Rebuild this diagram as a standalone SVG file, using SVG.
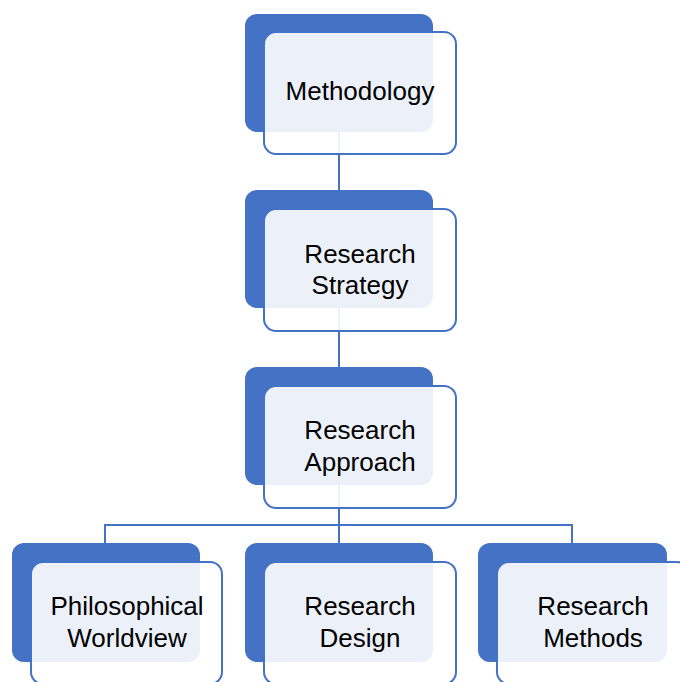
<svg xmlns="http://www.w3.org/2000/svg" width="680" height="682" viewBox="0 0 680 682">
<style>
.back{fill:#4472C4;}
.front{fill:#FFFFFF;fill-opacity:0.9;stroke:#4472C4;stroke-width:2;}
.lbl{font-family:"Liberation Sans",Arial,sans-serif;font-size:26px;fill:#000;text-anchor:middle;}
.conn{fill:none;stroke:#4472C4;stroke-width:2;}
</style>
<rect width="680" height="682" fill="#FFFFFF"/>
<g id="connectors">
<path class="conn" d="M339 132 V190"/>
<path class="conn" d="M339 308 V367"/>
<path class="conn" d="M339 485 V543"/>
<path class="conn" d="M105 543 V525 H572 V543"/>
</g>
<g id="n-methodology">
<rect class="back" x="245" y="14" width="188" height="118" rx="12"/>
<rect class="front" x="264" y="32" width="192" height="122" rx="12"/>
<text class="lbl" x="360" y="100">Methodology</text>
</g>
<g id="n-strategy">
<rect class="back" x="245" y="190" width="188" height="118" rx="12"/>
<rect class="front" x="264" y="209" width="192" height="122" rx="12"/>
<text class="lbl" x="360" y="263">Research</text>
<text class="lbl" x="360" y="294">Strategy</text>
</g>
<g id="n-approach">
<rect class="back" x="245" y="367" width="188" height="118" rx="12"/>
<rect class="front" x="264" y="386" width="192" height="122" rx="12"/>
<text class="lbl" x="360" y="439">Research</text>
<text class="lbl" x="360" y="471">Approach</text>
</g>
<g id="n-worldview">
<rect class="back" x="12" y="543" width="188" height="119" rx="12"/>
<rect class="front" x="31" y="562" width="191" height="122" rx="12"/>
<text class="lbl" x="127" y="615">Philosophical</text>
<text class="lbl" x="127" y="647">Worldview</text>
</g>
<g id="n-design">
<rect class="back" x="245" y="543" width="188" height="119" rx="12"/>
<rect class="front" x="264" y="562" width="192" height="122" rx="12"/>
<text class="lbl" x="360" y="615">Research</text>
<text class="lbl" x="360" y="647">Design</text>
</g>
<g id="n-methods">
<rect class="back" x="478" y="543" width="189" height="119" rx="12"/>
<rect class="front" x="497" y="562" width="192" height="122" rx="12"/>
<text class="lbl" x="593" y="615">Research</text>
<text class="lbl" x="593" y="647">Methods</text>
</g>
</svg>
